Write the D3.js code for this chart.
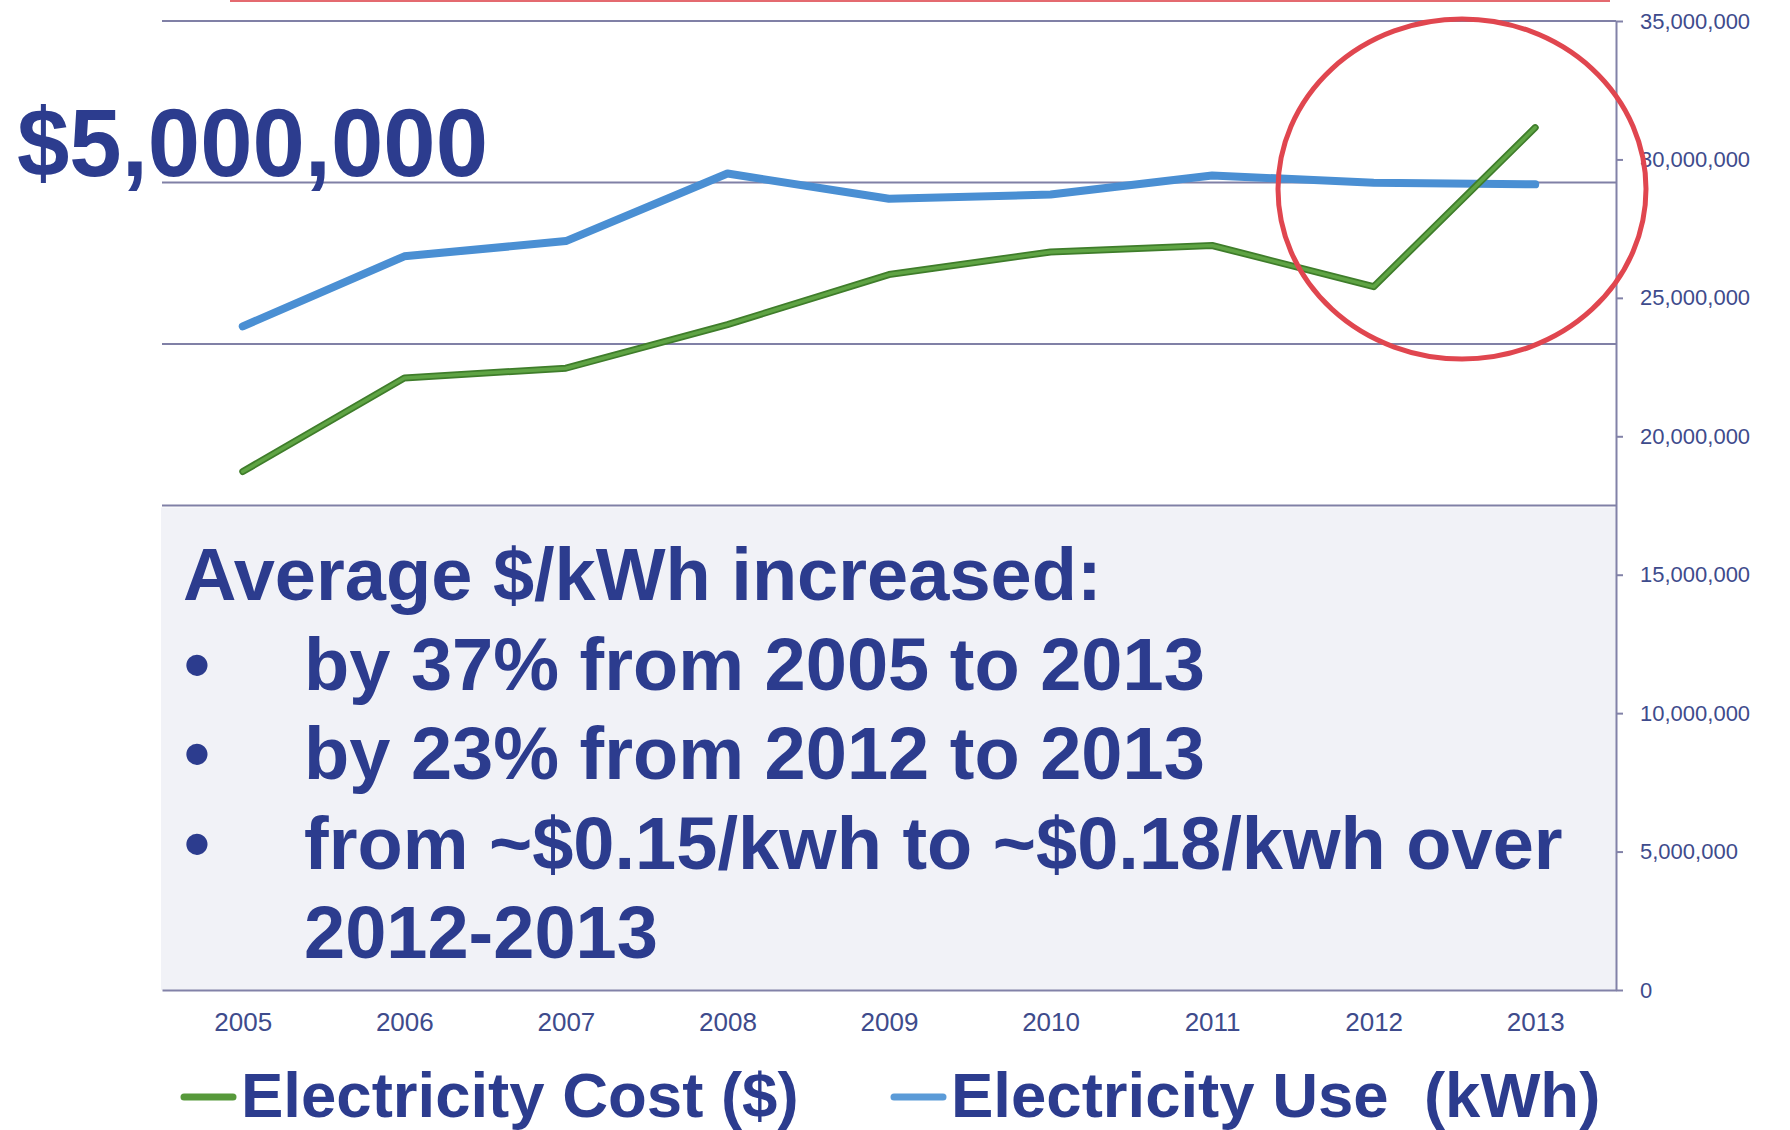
<html>

<head>
    <title>Electricity cost and use</title>
    <script src="https://d3js.org/d3.v7.min.js"></script>
    <style>
        body {
            margin: 0;
            background: #fff;
        }
        text {
            font-family: "Liberation Sans", Arial, sans-serif;
        }
        .axis path, .axis line {
            stroke: #8282a8;
            stroke-width: 2px;
        }
        .axis text {
            fill: #3e4b8c;
            font-size: 26px;
        }
        .axis.right text {
            font-size: 22px;
        }
        .grid {
            stroke: #8080a6;
            stroke-width: 2px;
        }
        .big {
            fill: #2c3c8e;
            font-weight: bold;
        }
    </style>
</head>

<body>
    <svg id="plot" height="1130" width="1790"></svg>
    <script>
        // values
        const years = ["2005", "2006", "2007", "2008", "2009", "2010", "2011", "2012", "2013"];
        const costValues = [3210000, 3790000, 3850000, 4120000, 4430000, 4570000, 4610000, 4355000, 5340000];
        const useValues = [23970000, 26500000, 27050000, 29490000, 28580000, 28730000, 29420000, 29160000, 29100000];
        const rightTicks = [0, 5000000, 10000000, 15000000, 20000000, 25000000, 30000000, 35000000];
        const leftGrid = [1000000, 2000000, 3000000, 4000000, 5000000, 6000000];
        const noteLines = [
            { bullet: false, text: "Average $/kWh increased:" },
            { bullet: true, text: "by 37% from 2005 to 2013" },
            { bullet: true, text: "by 23% from 2012 to 2013" },
            { bullet: true, text: "from ~$0.15/kwh to ~$0.18/kwh over" },
            { bullet: false, text: "2012-2013", indent: true }
        ];
        const legendItems = [
            { name: "Electricity Cost ($)", color: "#57993b", x: 180 },
            { name: "Electricity Use\u00a0\u00a0(kWh)", color: "#5b9bd8", x: 890 }
        ];

        const svg = d3.select("#plot");
        const plotLeft = 162, plotRight = 1616, plotTop = 21, plotBottom = 990;

        const x = d3.scalePoint().domain(years).range([plotLeft, plotRight]).padding(0.5);
        const yLeft = d3.scaleLinear().domain([0, 6000000]).range([plotBottom, plotTop]);
        const yRight = d3.scaleLinear().domain([0, 35000000]).range([plotBottom, plotTop]);

        // faint red underline left over from the slide title
        svg.append("rect")
            .attr("x", 230).attr("y", 0)
            .attr("width", 1380).attr("height", 2)
            .attr("fill", "#e46a70");

        // gridlines of the cost axis
        svg.selectAll("line.grid").data(leftGrid)
            .join("line")
            .attr("class", "grid")
            .attr("x1", plotLeft).attr("x2", plotRight)
            .attr("y1", d => yLeft(d)).attr("y2", d => yLeft(d));

        // note box over the lower half of the plot
        svg.append("rect")
            .attr("x", 161).attr("y", yLeft(3000000) + 2)
            .attr("width", plotRight - 161).attr("height", plotBottom - yLeft(3000000) - 2)
            .attr("fill", "#f1f2f7");

        svg.append("g")
            .attr("class", "axis")
            .attr("transform", "translate(0," + plotBottom + ")")
            .call(d3.axisBottom(x).tickSize(0).tickPadding(23).tickSizeOuter(0));

        svg.append("g")
            .attr("class", "axis right")
            .attr("transform", "translate(" + plotRight + ",0)")
            .call(d3.axisRight(yRight).tickValues(rightTicks)
                .tickFormat(d3.format(",")).tickSize(7).tickSizeOuter(0).tickPadding(17));

        // oversized cost tick label
        svg.append("text")
            .attr("class", "big")
            .attr("x", 17)
            .attr("y", yLeft(5000000) - 7)
            .attr("font-size", 97)
            .attr("textLength", 471)
            .attr("lengthAdjust", "spacingAndGlyphs")
            .text("$5,000,000");

        const costLine = d3.line().x((d, i) => x(years[i])).y(d => yLeft(d));
        const useLine = d3.line().x((d, i) => x(years[i])).y(d => yRight(d));

        svg.append("path")
            .datum(useValues)
            .attr("d", useLine)
            .attr("fill", "none")
            .attr("stroke", "#4a8fd3")
            .attr("stroke-width", 8)
            .attr("stroke-linecap", "round")
            .attr("stroke-linejoin", "round");

        svg.append("path")
            .datum(costValues)
            .attr("d", costLine)
            .attr("fill", "none")
            .attr("stroke", "#3f7d2b")
            .attr("stroke-width", 7)
            .attr("stroke-linecap", "round")
            .attr("stroke-linejoin", "round");
        svg.append("path")
            .datum(costValues)
            .attr("d", costLine)
            .attr("fill", "none")
            .attr("stroke", "#5fa444")
            .attr("stroke-width", 3.5)
            .attr("stroke-linecap", "round")
            .attr("stroke-linejoin", "round");

        // red circle around the 2012-2013 jump
        svg.append("ellipse")
            .attr("cx", 1462).attr("cy", 189)
            .attr("rx", 184).attr("ry", 170)
            .attr("fill", "none")
            .attr("stroke", "#e0464f")
            .attr("stroke-width", 5);

        // note text
        const note = svg.append("g");
        noteLines.forEach((d, i) => {
            const by = 600 + i * 89.5;
            if (d.bullet) {
                note.append("text")
                    .attr("class", "big")
                    .attr("x", 197).attr("y", by)
                    .attr("text-anchor", "middle")
                    .attr("font-size", 74)
                    .text("\u2022");
            }
            note.append("text")
                .attr("class", "big")
                .attr("x", (d.bullet || d.indent) ? 304 : 183)
                .attr("y", by)
                .attr("font-size", 74)
                .text(d.text);
        });

        // legend
        const legend = svg.append("g");
        legend.selectAll("line")
            .data(legendItems)
            .join("line")
            .attr("x1", d => d.x + 4).attr("x2", d => d.x + 53)
            .attr("y1", 1097).attr("y2", 1097)
            .attr("stroke", d => d.color)
            .attr("stroke-width", 7)
            .attr("stroke-linecap", "round");
        legend.selectAll("text")
            .data(legendItems)
            .join("text")
            .attr("class", "big")
            .attr("x", d => d.x + 61)
            .attr("y", 1117)
            .attr("font-size", 63.5)
            .text(d => d.name);
    </script>
</body>

</html>
